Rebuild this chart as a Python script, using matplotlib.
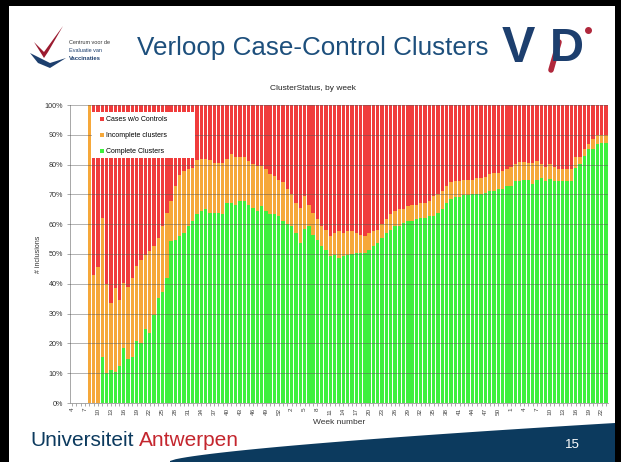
import matplotlib
matplotlib.use("Agg")
import matplotlib.pyplot as plt
import numpy as np
from matplotlib.patches import Polygon, Rectangle

# ---------------- data ----------------
weeks = list(range(4, 54)) + list(range(1, 53)) + list(range(1, 24))

complete_pct = [0, 0, 0, 0, 0, 0, 0, 15.5, 10, 11, 10.5, 12.5, 18.3, 14.6, 15.5, 20.8,
                20, 25, 23.6, 29.5, 35.2, 37.4, 42, 54.3, 54.8, 56, 57, 59.3, 61, 63.3,
                64.4, 65.2, 63.8, 63.8, 63.8, 63.5, 67.2, 67.2, 66.6, 67.7, 67.7, 66.6,
                65.5, 64.4, 66, 64.4, 63.3, 63.3, 62.7, 61, 60, 59.3, 57.1, 53.7, 58.5,
                59.3, 56.5, 54.8, 52.6, 51.5, 49.2, 49.8, 48.7, 49.2, 49.8, 50, 50.3,
                50.5, 50.5, 51.5, 52.6, 53.7, 55.4, 57.1, 58.2, 59.3, 59.3, 60.5, 61, 61,
                61.6, 62.1, 62.1, 62.7, 62.7, 63.8, 65, 67.2, 68.3, 69.2, 69.2, 69.7,
                69.7, 70, 70, 70, 70.6, 71.1, 71.1, 71.9, 71.9, 72.8, 72.8, 74.5, 74.5,
                74.8, 74.8, 73.6, 75, 75.6, 74.5, 75.3, 74.5, 74.5, 74.5, 74.5, 74.5,
                78.7, 80.1, 82.9, 85.2, 85.2, 86.9, 87.4, 87.4]

incomplete_pct = [0, 0, 0, 0, 100, 43, 45.5, 46.5, 30, 22.6, 28.1, 22.1, 22, 24.4, 26.5,
                  25.2, 28, 24.8, 27.3, 23.1, 20.2, 21.9, 21.8, 13.4, 18, 20.4, 20.9,
                  19.1, 17.9, 18.3, 17.6, 16.8, 17.7, 16.9, 16.9, 17.2, 14.8, 16.3, 16,
                  14.9, 14.9, 14.6, 14.6, 15.1, 13.5, 14, 13.4, 12.9, 12.3, 13, 11.7,
                  10.7, 10.1, 11.8, 10.9, 7.3, 7.3, 6.8, 6.7, 6.7, 6.8, 7.3, 8.9, 7.9,
                  7.8, 7.6, 6.8, 6, 5.5, 5.6, 5, 4.5, 4.5, 4.5, 5.1, 5.1, 5.7, 4.5, 5.1,
                  5.6, 5, 5.1, 5.1, 5, 6.7, 6.2, 6.1, 5.6, 5.7, 5.3, 5.3, 5.3, 5.3, 4.8,
                  5.6, 5.6, 5.4, 5.6, 6.2, 5.4, 6, 5.6, 6.5, 5.6, 6.4, 6.1, 5.6, 6.8,
                  6.2, 4.5, 4.8, 4.8, 4.8, 3.9, 3.9, 3.9, 3.9, 3.7, 2.3, 2.3, 1.7, 3.4,
                  3, 2.5, 2.6]

no_controls_pct = [0, 0, 0, 0, 0, 57, 54.5, 38, 60, 66.4, 61.4, 65.4, 59.7, 61, 58, 54,
                   52, 50.2, 49.1, 47.4, 44.6, 40.7, 36.2, 32.3, 27.2, 23.6, 22.1, 21.6,
                   21.1, 18.4, 18, 18, 18.5, 19.3, 19.3, 19.3, 18, 16.5, 17.4, 17.4,
                   17.4, 18.8, 19.9, 20.5, 20.5, 21.6, 23.3, 23.8, 25, 26, 28.3, 30,
                   32.8, 34.5, 30.6, 33.4, 36.2, 38.4, 40.7, 41.8, 44, 42.9, 42.4, 42.9,
                   42.4, 42.4, 42.9, 43.5, 44, 42.9, 42.4, 41.8, 40.1, 38.4, 36.7, 35.6,
                   35, 35, 33.9, 33.4, 33.4, 32.8, 32.8, 32.3, 30.6, 30, 28.9, 27.2, 26,
                   25.5, 25.5, 25, 25, 25.2, 24.4, 24.4, 24, 23.3, 22.7, 22.7, 22.1,
                   21.6, 20.7, 19.9, 19.1, 19.1, 19.6, 19.6, 18.8, 19.9, 20.7, 19.9,
                   20.7, 21.6, 21.6, 21.6, 21.6, 17.6, 17.6, 14.8, 13.1, 11.4, 10.1,
                   10.1, 10]

series_names = ["Cases w/o Controls", "Incomplete clusters", "Complete Clusters"]
y_ticks = [0, 10, 20, 30, 40, 50, 60, 70, 80, 90, 100]

# ---------------- figure ----------------
W, H = 621, 462
fig = plt.figure(figsize=(W / 100, H / 100), dpi=100)
fig.patch.set_facecolor("black")

bg = fig.add_axes([0, 0, 1, 1])
bg.set_xlim(0, W)
bg.set_ylim(H, 0)
bg.axis("off")
bg.set_zorder(0)

NAVY = "#0c3a5e"
TITLE = "#1d4f7c"
RED_UA = "#c4262e"
FAM = "Liberation Sans"

# white slide
bg.add_patch(Rectangle((9, 6), 606, 460, facecolor="white", edgecolor="none"))

# bottom navy swoosh
xs = np.linspace(170, 615, 80)
ytop = 461 - 38 * ((xs - 170) / 445) ** 0.7
poly = list(zip(xs, ytop)) + [(615, 462), (170, 462)]
bg.add_patch(Polygon(poly, closed=True, facecolor=NAVY, edgecolor="none"))
bg.text(572, 445, "15", color="white", fontsize=9.5, ha="center", va="center",
        family=FAM)

# Universiteit Antwerpen
t1 = bg.text(30, 441, "Universiteit", color=NAVY, fontsize=15, ha="left",
             va="center", family=FAM)
fig.canvas.draw()
bb = t1.get_window_extent()
x_end = bb.x1
bg.text(x_end + 5, 441, "Antwerpen", color=RED_UA, fontsize=15, ha="left",
        va="center", family=FAM)

# CEV logo (simplified)
bg.add_patch(Polygon([(34, 42), (44, 52), (63, 26), (48, 52), (44, 58)],
                     closed=True, facecolor="#9b1b30", edgecolor="none"))
bg.add_patch(Polygon([(30, 53), (50, 63), (66, 58), (50, 68), (38, 63)],
                     closed=True, facecolor="#1d3f6e", edgecolor="none"))
bg.text(69, 43, "Centrum voor de", fontsize=4.0, color="#333333", va="center",
        family=FAM)
bg.text(69, 51, "Evaluatie van", fontsize=4.0, color="#1d3f6e", va="center",
        family=FAM)
bg.text(69, 59, "Vaccinaties", fontsize=4.2, color="#1d3f6e", va="center",
        family=FAM, weight="bold")

# Title
bg.text(313, 48, "Verloop Case-Control Clusters", color=TITLE, fontsize=18.7,
        ha="center", va="center", family=FAM)

# VIDI logo (simplified)
bg.text(502, 49, "V", color="#1d3f6e", fontsize=36, weight="bold", ha="left",
        va="center", family=FAM)
bg.text(550, 49, "D", color="#1d3f6e", fontsize=34, weight="bold", ha="left",
        va="center", family=FAM)
bg.plot([551, 559], [70, 42], color="#b0283c", lw=4, solid_capstyle="round")
bg.plot([588], [30], marker="o", color="#b0283c", ms=4)

# chart title
bg.text(313, 88, "ClusterStatus, by week", fontsize=6, color="#222222",
        ha="center", va="center", family=FAM)

# ---------------- chart ----------------
ax = fig.add_axes([70 / W, 1 - 403 / H, 538 / W, 298 / H])
ax.set_zorder(2)
ax.patch.set_alpha(0)

x = np.arange(len(weeks))
g = np.array(complete_pct)
o = np.array(incomplete_pct)
r = np.array(no_controls_pct)

C_RED = "#f03c3c"
C_ORA = "#f6a83a"
C_GRN = "#3ef03e"
bw = 0.78
b3 = ax.bar(x, g, width=bw, color=C_GRN, linewidth=0, zorder=2)
b2 = ax.bar(x, o, width=bw, bottom=g, color=C_ORA, linewidth=0, zorder=2)
b1 = ax.bar(x, r, width=bw, bottom=g + o, color=C_RED, linewidth=0, zorder=2)

ax.set_xlim(-0.5, len(weeks) - 0.5)
ax.set_ylim(0, 100)
ax.set_yticks(y_ticks)
ax.set_yticklabels([f"{v}%" for v in y_ticks], fontsize=5.2, color="#333333",
                   family=FAM)
for v in y_ticks[1:]:
    ax.axhline(v, color="#555555", lw=0.7, alpha=0.45, zorder=3)

ax.set_xticks(x[::3])
ax.set_xticklabels([str(w) for w in weeks[::3]], rotation=90, fontsize=4.6,
                   color="#444444", family=FAM)
ax.set_xticks(x, minor=True)
ax.tick_params(axis="x", which="both", length=2, width=0.5, color="#888888", pad=1.5)
ax.tick_params(axis="y", length=2, width=0.5, color="#888888", pad=3)

for s in ["top", "right"]:
    ax.spines[s].set_visible(False)
ax.spines["left"].set_color("#999999")
ax.spines["left"].set_linewidth(0.6)
ax.spines["bottom"].set_color("#999999")
ax.spines["bottom"].set_linewidth(0.6)

ax.set_xlabel("Week number", fontsize=6, color="#333333", labelpad=3,
              family=FAM)
ax.set_ylabel("# inclusions", fontsize=5, color="#333333", labelpad=2,
              family=FAM)

# legend box (white) drawn manually, legend text without frame
ax.add_patch(Rectangle(((92 - 70) / 538, 1 - (158 - 105) / 298),
                       (195 - 92) / 538, (158 - 112) / 298,
                       transform=ax.transAxes, facecolor="white",
                       edgecolor="none", zorder=4))
leg = ax.legend([b1, b2, b3], series_names, loc="upper left",
                bbox_to_anchor=((96 - 70) / 538, 1 - (112 - 105) / 298),
                frameon=False, borderpad=0.6,
                labelspacing=1.3, handlelength=0.5, handleheight=0.5,
                handletextpad=0.3, borderaxespad=0,
                prop={"family": FAM, "size": 5})
leg.set_zorder(5)

fig.savefig("out.png", dpi=100, facecolor=fig.get_facecolor())
